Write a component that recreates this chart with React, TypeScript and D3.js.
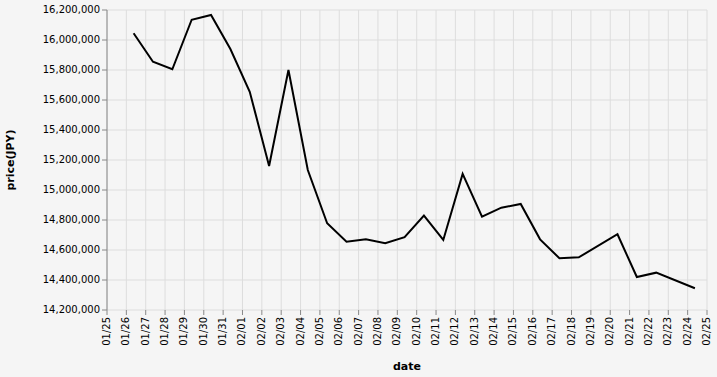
import React from "react";
import * as d3 from "d3";

const dates: string[] = [
  "2024-01-26", "2024-01-27", "2024-01-28", "2024-01-29", "2024-01-30", "2024-01-31",
  "2024-02-01", "2024-02-02", "2024-02-03", "2024-02-04", "2024-02-05", "2024-02-06",
  "2024-02-07", "2024-02-08", "2024-02-09", "2024-02-10", "2024-02-11", "2024-02-12",
  "2024-02-13", "2024-02-14", "2024-02-15", "2024-02-16", "2024-02-17", "2024-02-18",
  "2024-02-20", "2024-02-21", "2024-02-22", "2024-02-24",
];
const prices: number[] = [
  16045000, 15855000, 15805000, 16135000, 16167000, 15940000,
  15655000, 15160000, 15800000, 15133000, 14778000, 14655000,
  14671000, 14645000, 14685000, 14829000, 14667000, 15107000,
  14822000, 14882000, 14907000, 14671000, 14545000, 14551000,
  14705000, 14420000, 14449000, 14345000,
];
const yTicks: number[] = [14200000, 14400000, 14600000, 14800000, 15000000, 15200000, 15400000, 15600000, 15800000, 16000000, 16200000];
const xStart = "2024-01-25";
const xEnd = "2024-02-25";
const xTitle = "date";
const yTitle = "price(JPY)";

const W = 717, H = 377;
const M = { left: 107, top: 10, right: 707, bottom: 310 };
const FONT = "'DejaVu Sans', sans-serif";

const parse = (s: string, h = 0) => {
  const [y, m, d] = s.split("-").map(Number);
  return new Date(Date.UTC(y, m - 1, d, h));
};

export default function App() {
  const x = d3.scaleUtc().domain([parse(xStart), parse(xEnd)]).range([M.left, M.right]);
  const y = d3.scaleLinear().domain([yTicks[0], yTicks[yTicks.length - 1]]).range([M.bottom, M.top]);
  const xTicks = d3.utcDay.range(parse(xStart), d3.utcDay.offset(parse(xEnd), 1));
  const fmt = d3.utcFormat("%m/%d");
  const yFmt = d3.format(",");
  const data = dates.map((d, i) => ({ t: parse(d, 9), v: prices[i] }));
  const line = d3.line<{ t: Date; v: number }>().x((d) => x(d.t)).y((d) => y(d.v));
  const grid = "#dddddd";
  const tickC = "#888888";
  return (
    <svg width={W} height={H} style={{ position: "absolute", left: 0, top: 0, display: "block" }}>
      <rect x={0} y={0} width={W} height={H} fill="#f5f5f5" />
      {xTicks.map((t, i) => (
        <line key={"gx" + i} x1={x(t)} x2={x(t)} y1={M.top} y2={M.bottom} stroke={grid} strokeWidth={1} />
      ))}
      {yTicks.map((v, i) => (
        <line key={"gy" + i} x1={M.left} x2={M.right} y1={y(v)} y2={y(v)} stroke={grid} strokeWidth={1} />
      ))}
      {xTicks.map((t, i) => (
        <g key={"xt" + i}>
          <line x1={x(t)} x2={x(t)} y1={M.bottom} y2={M.bottom + 5} stroke={tickC} strokeWidth={1} />
          <text
            transform={`translate(${x(t)},${M.bottom + 7}) rotate(-90)`}
            textAnchor="end"
            dominantBaseline="middle"
            fontFamily={FONT}
            fontSize={10}
            fill="#000"
          >
            {fmt(t)}
          </text>
        </g>
      ))}
      {yTicks.map((v, i) => (
        <g key={"yt" + i}>
          <line x1={M.left - 5} x2={M.left} y1={y(v)} y2={y(v)} stroke={tickC} strokeWidth={1} />
          <text x={M.left - 7} y={y(v)} textAnchor="end" dominantBaseline="middle" fontFamily={FONT} fontSize={10} fill="#000">
            {yFmt(v)}
          </text>
        </g>
      ))}
      <line x1={M.left} x2={M.left} y1={M.top} y2={M.bottom} stroke={tickC} strokeWidth={1} />
      <path d={line(data) || ""} fill="none" stroke="#000" strokeWidth={2} strokeLinejoin="miter" />
      <text x={(M.left + M.right) / 2} y={370} textAnchor="middle" fontFamily={FONT} fontSize={11} fontWeight="bold" fill="#000">
        {xTitle}
      </text>
      <text
        transform={`translate(14,${(M.top + M.bottom) / 2}) rotate(-90)`}
        textAnchor="middle"
        fontFamily={FONT}
        fontSize={11}
        fontWeight="bold"
        fill="#000"
      >
        {yTitle}
      </text>
    </svg>
  );
}
